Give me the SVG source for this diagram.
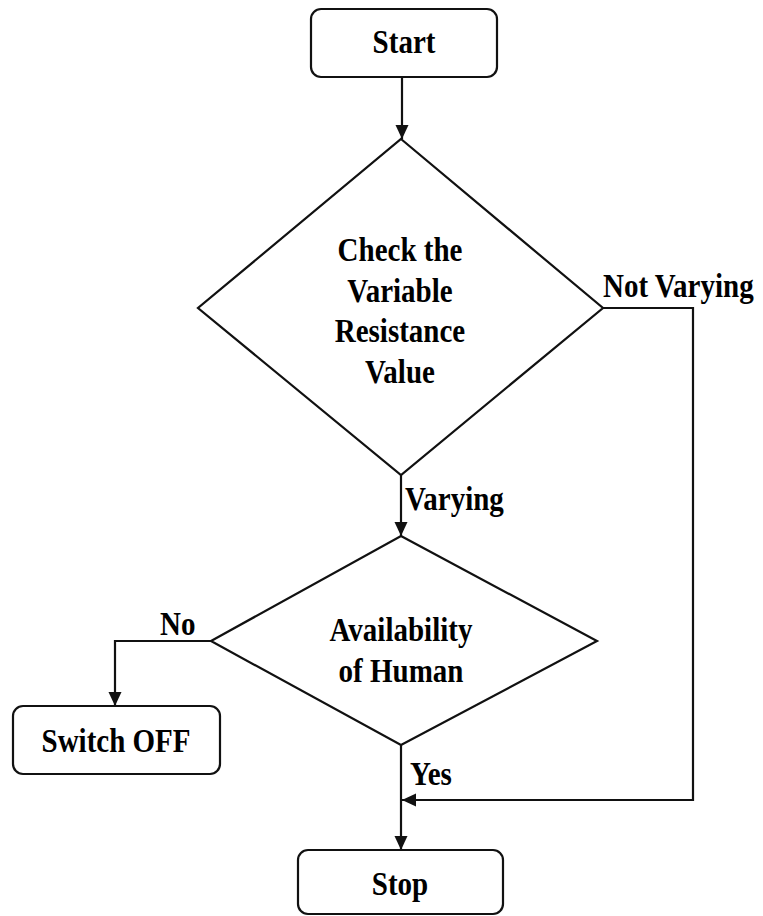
<svg xmlns="http://www.w3.org/2000/svg" width="763" height="916" viewBox="0 0 763 916">
  <style>
    .shape { fill: #ffffff; stroke: #111111; stroke-width: 2.2; }
    .wire { fill: none; stroke: #111111; stroke-width: 2.2; }
    .lbl { font-family: "Liberation Serif", "Times New Roman", serif; font-weight: bold; font-size: 29px; fill: #000000; }
    .mid { text-anchor: middle; }
  </style>
  <defs>
    <marker id="arrow" markerUnits="userSpaceOnUse" markerWidth="15" markerHeight="14" refX="14" refY="6.5" orient="auto">
      <path d="M0,0 L14,6.5 L0,13 Z" fill="#111111"/>
    </marker>
  </defs>

  <rect width="763" height="916" fill="#ffffff"/>

  <!-- connectors -->
  <g id="connectors">
    <path class="wire" d="M402,77 L402,139" marker-end="url(#arrow)"/>
    <path class="wire" d="M401,475 L401,536" marker-end="url(#arrow)"/>
    <path class="wire" d="M211,641 L115,641 L115,706" marker-end="url(#arrow)"/>
    <path class="wire" d="M401,745 L401,850" marker-end="url(#arrow)"/>
    <path class="wire" d="M603,308 L693,308 L693,800 L402,800" marker-end="url(#arrow)"/>
    <text class="lbl" transform="translate(603 297) scale(1 1.13)">Not Varying</text>
    <text class="lbl" transform="translate(405 510) scale(1 1.13)">Varying</text>
    <text class="lbl" transform="translate(160 635) scale(1 1.13)">No</text>
    <text class="lbl" transform="translate(410 785) scale(1 1.13)">Yes</text>
  </g>

  <!-- start terminal -->
  <g id="start">
    <rect class="shape" x="311" y="9" width="186" height="68" rx="10" ry="10"/>
    <text class="lbl mid" transform="translate(404 53) scale(1 1.13)">Start</text>
  </g>

  <!-- resistance check decision -->
  <g id="check-resistance">
    <polygon class="shape" points="401,139 603,308 401,475 198,308"/>
    <text class="lbl mid" transform="translate(400 261) scale(1 1.13)">Check the</text>
    <text class="lbl mid" transform="translate(400 302) scale(1 1.13)">Variable</text>
    <text class="lbl mid" transform="translate(400 342) scale(1 1.13)">Resistance</text>
    <text class="lbl mid" transform="translate(400 383) scale(1 1.13)">Value</text>
  </g>

  <!-- human presence decision -->
  <g id="human-availability">
    <polygon class="shape" points="401,536 597,641 401,745 211,641"/>
    <text class="lbl mid" transform="translate(401 641) scale(1 1.13)">Availability</text>
    <text class="lbl mid" transform="translate(401 682) scale(1 1.13)">of Human</text>
  </g>

  <!-- switch off action -->
  <g id="switch-off">
    <rect class="shape" x="13" y="706" width="207" height="68" rx="10" ry="10"/>
    <text class="lbl mid" transform="translate(116 752) scale(1 1.13)">Switch OFF</text>
  </g>

  <!-- stop terminal -->
  <g id="stop">
    <rect class="shape" x="298" y="850" width="205" height="64" rx="10" ry="10"/>
    <text class="lbl mid" transform="translate(400 895) scale(1 1.13)">Stop</text>
  </g>
</svg>
